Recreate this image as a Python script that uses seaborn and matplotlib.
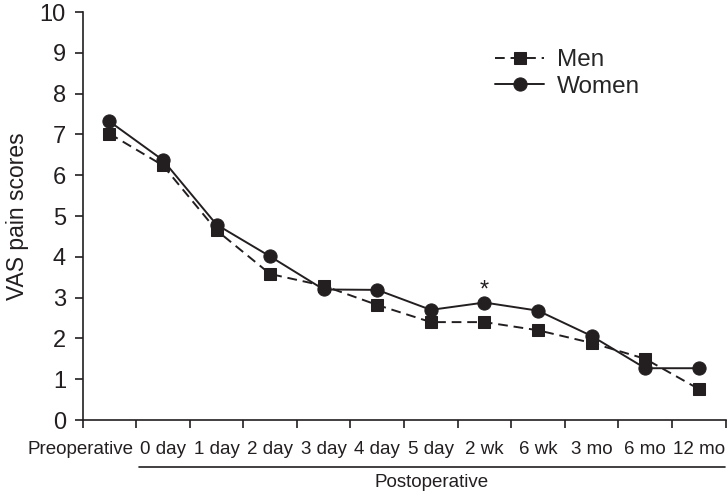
import seaborn as sns
import matplotlib.pyplot as plt
import matplotlib.transforms as mtransforms
import pandas as pd
import numpy as np

categories = ["Preoperative", "0 day", "1 day", "2 day", "3 day", "4 day", "5 day",
              "2 wk", "6 wk", "3 mo", "6 mo", "12 mo"]
men = [7.02, 6.24, 4.65, 3.58, 3.29, 2.82, 2.4, 2.4, 2.2, 1.89, 1.5, 0.76]
women = [7.32, 6.37, 4.79, 4.01, 3.2, 3.19, 2.7, 2.88, 2.68, 2.06, 1.27, 1.27]
star_idx = 7  # 2 wk, significant difference

ink = "#231f20"

df = pd.DataFrame({
    "pos": list(range(len(categories))) * 2,
    "score": men + women,
    "Group": ["Men"] * len(men) + ["Women"] * len(women),
})

sns.set_style("ticks")
plt.rcParams["font.family"] = ["Liberation Sans", "DejaVu Sans"]

fig = plt.figure(figsize=(7.28, 4.93), dpi=100)
ax = fig.add_axes([0.1134, 0.148, 0.8833, 0.8276])

sns.lineplot(data=df[df.Group == "Men"], x="pos", y="score", ax=ax,
             color=ink, linestyle=(0, (5, 3)), linewidth=1.4,
             marker="s", markersize=8, markeredgecolor=ink, label="Men")
sns.lineplot(data=df[df.Group == "Women"], x="pos", y="score", ax=ax,
             color=ink, linestyle="-", linewidth=1.4,
             marker="o", markersize=9.5, markeredgecolor=ink, label="Women")

ax.text(star_idx, women[star_idx] + 0.3, "*", ha="center", va="center",
        fontsize=17, color=ink)

n = len(categories)
ax.set_xlim(-0.5, n - 0.5)
ax.set_ylim(0, 10)
ax.set_yticks(range(0, 11))
ax.set_xticks(range(n))
ax.set_xticklabels(categories)
ax.set_xticks(np.arange(-0.5, n, 1.0), minor=True)
ax.tick_params(axis="x", which="major", length=0, pad=15, labelsize=13.5, colors=ink)
ax.tick_params(axis="x", which="minor", length=6, width=1.2, color=ink)
ax.tick_params(axis="y", length=6, width=1.2, pad=6, labelsize=17, colors=ink)

# shift the long "Preoperative" label to the left
lab = ax.get_xticklabels()[0]
lab.set_transform(lab.get_transform() + mtransforms.ScaledTranslation(-0.29, 0, fig.dpi_scale_trans))

ax.set_xlabel("")
ax.set_ylabel("VAS pain scores", fontsize=16.5, color=ink, labelpad=8)

for s in ["top", "right"]:
    ax.spines[s].set_visible(False)
for s in ["left", "bottom"]:
    ax.spines[s].set_color(ink)
    ax.spines[s].set_linewidth(1.2)

trans = mtransforms.blended_transform_factory(ax.transData, ax.transAxes)
ax.plot([0.55, n - 0.52], [-0.115, -0.115], transform=trans, color=ink,
        linewidth=1.2, clip_on=False)
ax.text((0.55 + n - 0.52) / 2, -0.154, "Postoperative", transform=trans,
        ha="center", va="center", fontsize=13.5, color=ink)

ax.legend(loc="upper left", bbox_to_anchor=(0.608, 0.963), frameon=False,
          fontsize=17.5, handlelength=2.0, handletextpad=0.55, labelspacing=0.2)

fig.savefig("out.png", dpi=100)
